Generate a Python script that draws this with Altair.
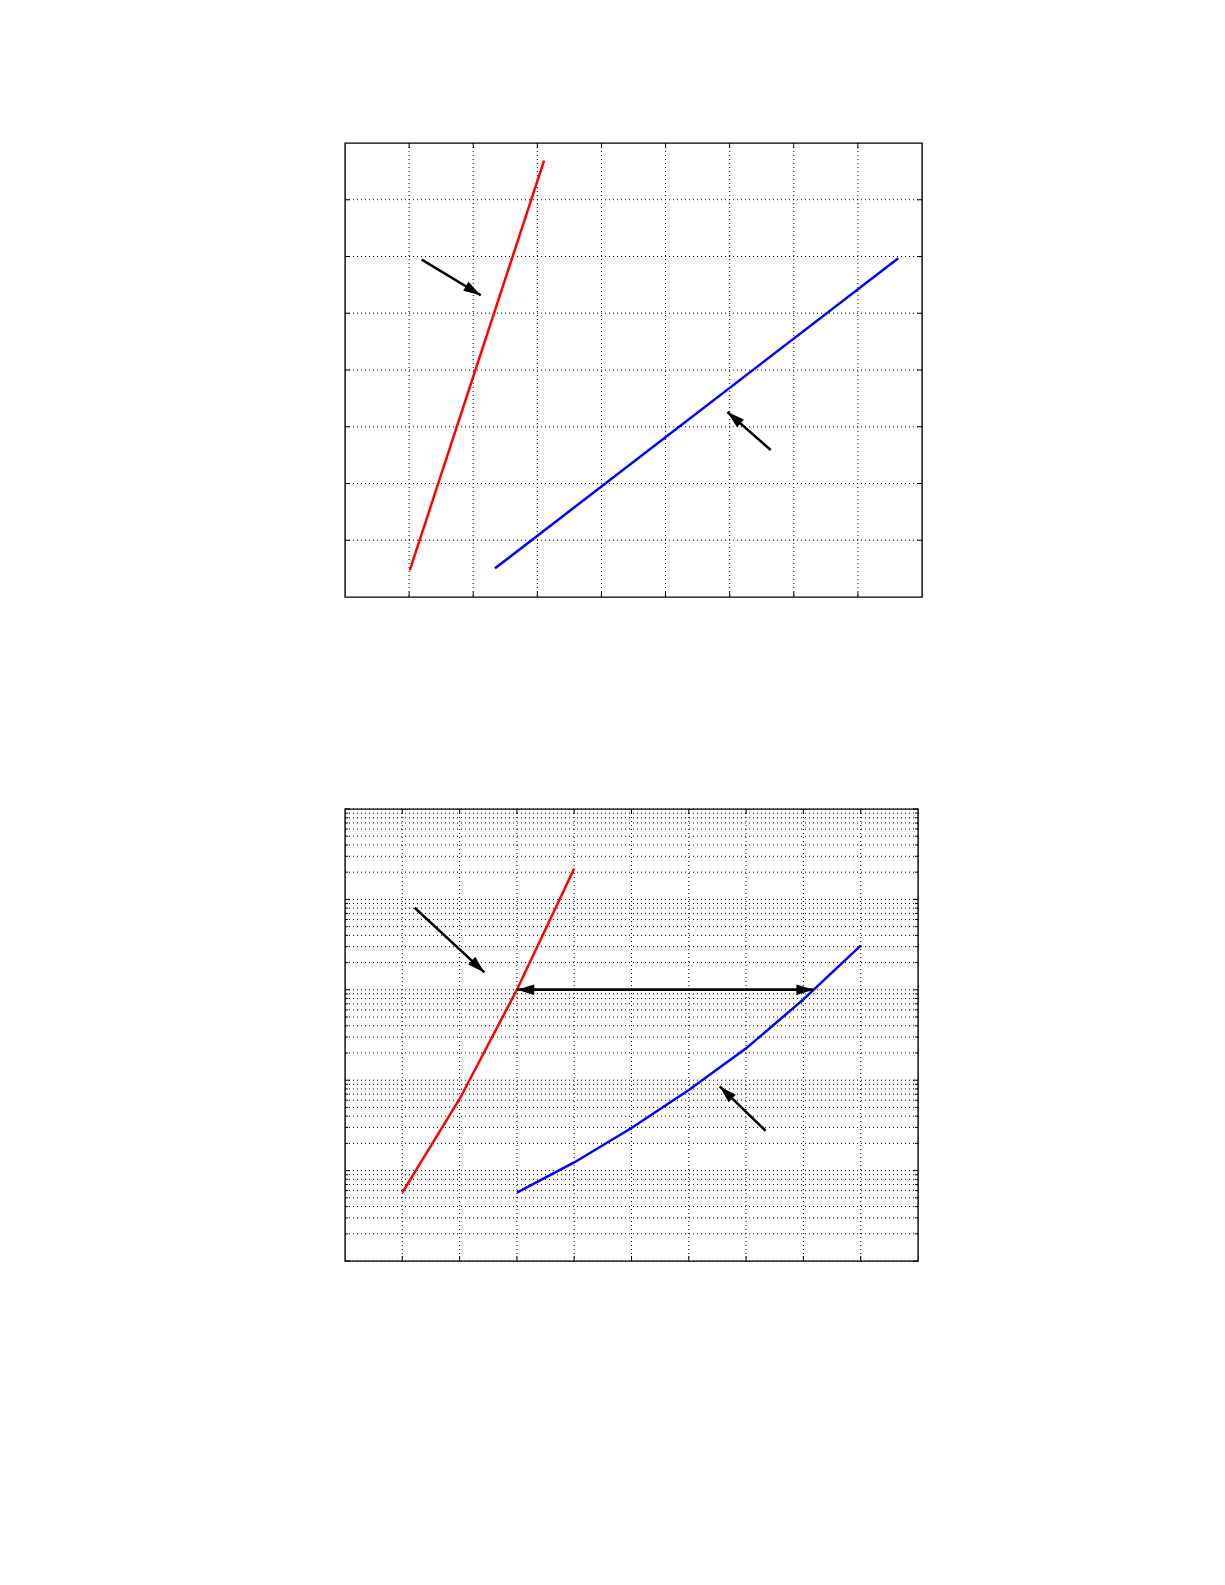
import math
import altair as alt
import pandas as pd

# ---------------- data ----------------
# Top panel (linear axes)
top_x_domain = [0, 9]
top_y_domain = [0, 8]
top_x_grid = [1, 2, 3, 4, 5, 6, 7, 8]
top_y_grid = [1, 2, 3, 4, 5, 6, 7]
top_red_x = [1.01, 3.105]
top_red_y = [0.47, 7.69]
top_blue_x = [2.34, 8.63]
top_blue_y = [0.505, 5.97]
top_arrow_x0 = [1.197, 6.64]
top_arrow_y0 = [5.945, 2.59]
top_arrow_x1 = [2.117, 5.965]
top_arrow_y1 = [5.317, 3.26]

# Bottom panel (log y axis)
bot_x_domain = [0, 10]
bot_y_domain = [1, 100000]
bot_x_grid = [1, 2, 3, 4, 5, 6, 7, 8, 9]
bot_y_major = [1, 10, 100, 1000, 10000, 100000]
bot_y_minor = [k * 10 ** n for n in range(0, 5) for k in range(2, 10)]
bot_red_x = [1, 2, 3, 4]
bot_red_y = [5.7, 62, 1000, 22000]
bot_blue_x = [3, 4, 5, 6, 7, 8, 9]
bot_blue_y = [5.7, 12.3, 29.6, 78, 225, 783, 3076]
bot_arrow_x0 = [1.216, 7.34]
bot_arrow_y0 = [8090, 27.6]
bot_arrow_x1 = [2.433, 6.54]
bot_arrow_y1 = [1557, 85.4]
bot_double_x0 = [3.0]
bot_double_x1 = [8.18]
bot_double_y = [1000]

TOP_W, TOP_H = 577, 454
BOT_W, BOT_H = 573, 452

HEAD = "M0,0 L-0.6,2 L0.6,2 Z"


def angle_deg(dx_px, dy_px):
    a = math.degrees(math.atan2(dx_px, -dy_px))
    return a % 360


def ticks_layers(xs, ys, xsc, ysc, W, H, length):
    layers = []
    dx = pd.DataFrame({"v": xs})
    dy = pd.DataFrame({"v": ys})
    xe = alt.X("v:Q", scale=xsc, axis=None)
    ye = alt.Y("v:Q", scale=ysc, axis=None)
    layers.append(alt.Chart(dx).mark_rule(color="black", strokeWidth=1).encode(
        x=xe, y=alt.value(H), y2=alt.value(H - length)))
    layers.append(alt.Chart(dx).mark_rule(color="black", strokeWidth=1).encode(
        x=xe, y=alt.value(0), y2=alt.value(length)))
    layers.append(alt.Chart(dy).mark_rule(color="black", strokeWidth=1).encode(
        y=ye, x=alt.value(0), x2=alt.value(length)))
    layers.append(alt.Chart(dy).mark_rule(color="black", strokeWidth=1).encode(
        y=ye, x=alt.value(W), x2=alt.value(W - length)))
    return layers


def grid_layers(xs, ys, xsc, ysc):
    gx = alt.Chart(pd.DataFrame({"v": xs})).mark_rule(
        color="black", strokeWidth=1, strokeDash=[1, 3]).encode(
        x=alt.X("v:Q", scale=xsc, axis=None))
    gy = alt.Chart(pd.DataFrame({"v": ys})).mark_rule(
        color="black", strokeWidth=1, strokeDash=[1, 3]).encode(
        y=alt.Y("v:Q", scale=ysc, axis=None))
    return [gx, gy]


def line_layer(xs, ys, color, xsc, ysc):
    df = pd.DataFrame({"x": xs, "y": ys, "o": list(range(len(xs)))})
    return alt.Chart(df).mark_line(color=color, strokeWidth=2.5).encode(
        x=alt.X("x:Q", scale=xsc, axis=None),
        y=alt.Y("y:Q", scale=ysc, axis=None),
        order="o:Q")


def arrow_layers(x0, y0, x1, y1, angles, xsc, ysc):
    df = pd.DataFrame({"x0": x0, "y0": y0, "x1": x1, "y1": y1, "a": angles})
    shaft = alt.Chart(df).mark_rule(color="black", strokeWidth=2.5).encode(
        x=alt.X("x0:Q", scale=xsc, axis=None),
        y=alt.Y("y0:Q", scale=ysc, axis=None),
        x2="x1:Q", y2="y1:Q")
    head = alt.Chart(df).mark_point(shape=HEAD, filled=True, color="black",
                                    opacity=1, size=300, strokeWidth=0).encode(
        x=alt.X("x1:Q", scale=xsc, axis=None),
        y=alt.Y("y1:Q", scale=ysc, axis=None),
        angle=alt.Angle("a:Q", scale=None))
    return [shaft, head]


# ---------------- top panel ----------------
txs = alt.Scale(domain=top_x_domain, nice=False, zero=False)
tys = alt.Scale(domain=top_y_domain, nice=False, zero=False)
tpx = TOP_W / (top_x_domain[1] - top_x_domain[0])
tpy = TOP_H / (top_y_domain[1] - top_y_domain[0])
top_angles = [angle_deg((x1 - x0) * tpx, -(y1 - y0) * tpy)
              for x0, y0, x1, y1 in zip(top_arrow_x0, top_arrow_y0, top_arrow_x1, top_arrow_y1)]

top_layers = (grid_layers(top_x_grid, top_y_grid, txs, tys)
              + ticks_layers(top_x_grid, top_y_grid, txs, tys, TOP_W, TOP_H, 5)
              + [line_layer(top_red_x, top_red_y, "#ff0000", txs, tys),
                 line_layer(top_blue_x, top_blue_y, "#0000ff", txs, tys)]
              + arrow_layers(top_arrow_x0, top_arrow_y0, top_arrow_x1, top_arrow_y1,
                             top_angles, txs, tys))
top = alt.layer(*top_layers).properties(width=TOP_W, height=TOP_H)

# ---------------- bottom panel ----------------
bxs = alt.Scale(domain=bot_x_domain, nice=False, zero=False)
bys = alt.Scale(type="log", domain=bot_y_domain, nice=False, zero=False)
bpx = BOT_W / (bot_x_domain[1] - bot_x_domain[0])
bpd = BOT_H / (math.log10(bot_y_domain[1]) - math.log10(bot_y_domain[0]))
bot_angles = [angle_deg((x1 - x0) * bpx, -(math.log10(y1) - math.log10(y0)) * bpd)
              for x0, y0, x1, y1 in zip(bot_arrow_x0, bot_arrow_y0, bot_arrow_x1, bot_arrow_y1)]

dbl_x1 = bot_double_x0 + bot_double_x1
dbl_x0 = bot_double_x1 + bot_double_x0
dbl_y = bot_double_y * 2
dbl_angles = [angle_deg((a - b) * bpx, 0) for a, b in zip(dbl_x1, dbl_x0)]

bot_layers = (grid_layers(bot_x_grid, bot_y_major + bot_y_minor, bxs, bys)
              + ticks_layers(bot_x_grid, bot_y_major, bxs, bys, BOT_W, BOT_H, 5)
              + ticks_layers([], bot_y_minor, bxs, bys, BOT_W, BOT_H, 3)[2:]
              + [line_layer(bot_red_x, bot_red_y, "#ff0000", bxs, bys),
                 line_layer(bot_blue_x, bot_blue_y, "#0000ff", bxs, bys)]
              + arrow_layers(bot_arrow_x0, bot_arrow_y0, bot_arrow_x1, bot_arrow_y1,
                             bot_angles, bxs, bys)
              + arrow_layers(dbl_x0, dbl_y, dbl_x1, dbl_y, dbl_angles, bxs, bys))
bottom = alt.layer(*bot_layers).properties(width=BOT_W, height=BOT_H)

chart = alt.vconcat(top, bottom, spacing=208).properties(
    padding={"left": 335, "top": 133, "right": 5, "bottom": 5},
    background="white"
).configure_view(stroke="black", strokeWidth=1.4)

chart.save("out.html", embed_options={"renderer": "svg", "actions": False})
